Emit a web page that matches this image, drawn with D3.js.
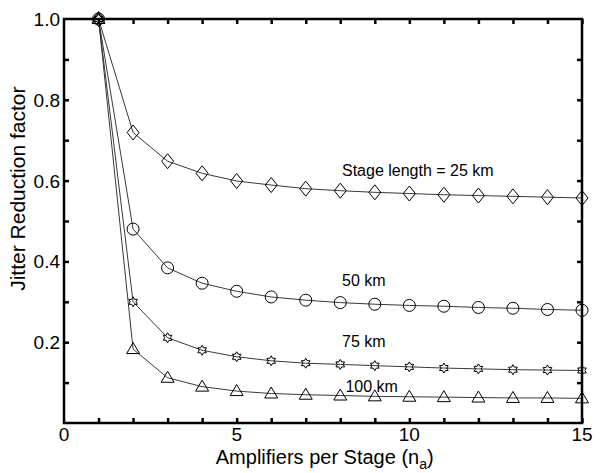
<!DOCTYPE html>
<html>
<head>
<meta charset="utf-8">
<script src="https://cdn.jsdelivr.net/npm/d3@7"></script>
<style>
  body { margin: 0; background: #fff; }
  text { font-family: "Liberation Sans", Arial, sans-serif; fill: #000; }
</style>
</head>
<body>
<div class="canvas"></div>
<script>
// data
const nA = [1, 2, 3, 4, 5, 6, 7, 8, 9, 10, 11, 12, 13, 14, 15];
const stage25 = [1.0, 0.719, 0.648, 0.618, 0.599, 0.589, 0.580, 0.575, 0.571, 0.568, 0.565, 0.563, 0.561, 0.559, 0.557];
const stage50 = [1.0, 0.480, 0.384, 0.346, 0.326, 0.312, 0.304, 0.298, 0.294, 0.291, 0.289, 0.286, 0.284, 0.281, 0.279];
const stage75 = [1.0, 0.300, 0.211, 0.180, 0.164, 0.154, 0.148, 0.145, 0.142, 0.139, 0.136, 0.134, 0.132, 0.131, 0.130];
const stage100 = [1.0, 0.183, 0.112, 0.090, 0.079, 0.073, 0.070, 0.068, 0.066, 0.065, 0.064, 0.063, 0.062, 0.062, 0.061];
const seriesNames = ['Stage length = 25 km', '50 km', '75 km', '100 km'];
const xTickLabels = [0, 5, 10, 15];
const yTickLabels = [0.2, 0.4, 0.6, 0.8, 1.0];

const width = 602, height = 473;
const margin = { top: 19, right: 20, bottom: 50, left: 64 };
const w = width - margin.left - margin.right;
const h = height - margin.top - margin.bottom;

const svg = d3.select('.canvas')
    .append('svg')
    .attr('width', width)
    .attr('height', height);

const graph = svg.append('g')
    .attr('transform', `translate(${margin.left}, ${margin.top})`);

const x = d3.scaleLinear().domain([0, 15]).range([0, w]);
const y = d3.scaleLinear().domain([0, 1]).range([h, 0]);

// hexagram marker
const hexagram = (r) => {
    const pts = [];
    for (let i = 0; i < 12; i++) {
        const a = Math.PI / 6 * i - Math.PI / 2;
        const rr = i % 2 === 0 ? r : r / Math.sqrt(3);
        pts.push([rr * Math.cos(a), rr * Math.sin(a)]);
    }
    return 'M' + pts.map(p => p.join(',')).join('L') + 'Z';
};

const markers = [
    'M0,-7.5L6,0L0,7.5L-6,0Z',
    d3.symbol().type(d3.symbolCircle).size(Math.PI * 36)(),
    hexagram(5),
    'M0,-6.5L6.5,4.5L-6.5,4.5Z'
];

const series = [stage25, stage50, stage75, stage100].map((vals, i) => ({
    name: seriesNames[i],
    marker: markers[i],
    points: vals.map((v, j) => ({ n: nA[j], v }))
}));

const line = d3.line().x(d => x(d.n)).y(d => y(d.v));

// lines
graph.selectAll('path.series')
    .data(series)
    .enter()
    .append('path')
    .attr('class', 'series')
    .attr('d', d => line(d.points))
    .attr('fill', 'none')
    .attr('stroke', '#222')
    .attr('stroke-width', 0.9);

// markers
series.forEach(s => {
    graph.selectAll(null)
        .data(s.points)
        .enter()
        .append('path')
        .attr('d', s.marker)
        .attr('transform', d => `translate(${x(d.n)}, ${y(d.v)})`)
        .attr('fill', 'none')
        .attr('stroke', '#000')
        .attr('stroke-width', 1);
});

// axes: ticks inward on all four sides
const tickLen = 5;
const bottomAxis = d3.axisBottom(x).tickValues(nA).tickSize(-tickLen).tickFormat('');
const topAxis = d3.axisTop(x).tickValues(nA).tickSize(-tickLen).tickFormat('');
const yTicks = [0.1, 0.2, 0.3, 0.4, 0.5, 0.6, 0.7, 0.8, 0.9];
const leftAxis = d3.axisLeft(y).tickValues(yTicks).tickSize(-tickLen).tickFormat('');
const rightAxis = d3.axisRight(y).tickValues(yTicks).tickSize(-tickLen).tickFormat('');

const axG = [
    graph.append('g').attr('transform', `translate(0, ${h})`).call(bottomAxis),
    graph.append('g').call(topAxis),
    graph.append('g').call(leftAxis),
    graph.append('g').attr('transform', `translate(${w}, 0)`).call(rightAxis)
];
axG.forEach(g => {
    g.select('.domain').remove();
    g.selectAll('.tick line').attr('stroke', '#000').attr('stroke-width', 2.5);
});

// frame
graph.append('rect')
    .attr('x', 0).attr('y', 0)
    .attr('width', w).attr('height', h)
    .attr('fill', 'none')
    .attr('stroke', '#000')
    .attr('stroke-width', 2.5);

// tick labels
graph.selectAll('text.xlab')
    .data(xTickLabels)
    .enter()
    .append('text')
    .attr('x', d => x(d))
    .attr('y', h + 18)
    .attr('text-anchor', 'middle')
    .attr('font-size', 19)
    .text(d => d);

graph.selectAll('text.ylab')
    .data(yTickLabels)
    .enter()
    .append('text')
    .attr('x', -4)
    .attr('y', d => y(d) + 7)
    .attr('text-anchor', 'end')
    .attr('font-size', 19)
    .text(d => d.toFixed(1));

// axis titles
const xTitle = svg.append('text')
    .attr('x', margin.left + x(7.55))
    .attr('y', 464)
    .attr('text-anchor', 'middle')
    .attr('font-size', 20);
xTitle.append('tspan').text('Amplifiers per Stage (n');
xTitle.append('tspan').attr('font-size', 14).attr('dy', 5).text('a');
xTitle.append('tspan').attr('dy', -5).text(')');

svg.append('text')
    .attr('transform', `translate(25, ${margin.top + y(0.58)}) rotate(-90)`)
    .attr('text-anchor', 'middle')
    .attr('font-size', 21)
    .text('Jitter Reduction factor');

// curve labels
const labelPos = [[8.05, 0.611], [8.05, 0.338], [8.05, 0.189], [8.15, 0.077]];
graph.selectAll('text.curve')
    .data(series)
    .enter()
    .append('text')
    .attr('x', (d, i) => x(labelPos[i][0]))
    .attr('y', (d, i) => y(labelPos[i][1]))
    .attr('font-size', 16)
    .text(d => d.name);
</script>
</body>
</html>
